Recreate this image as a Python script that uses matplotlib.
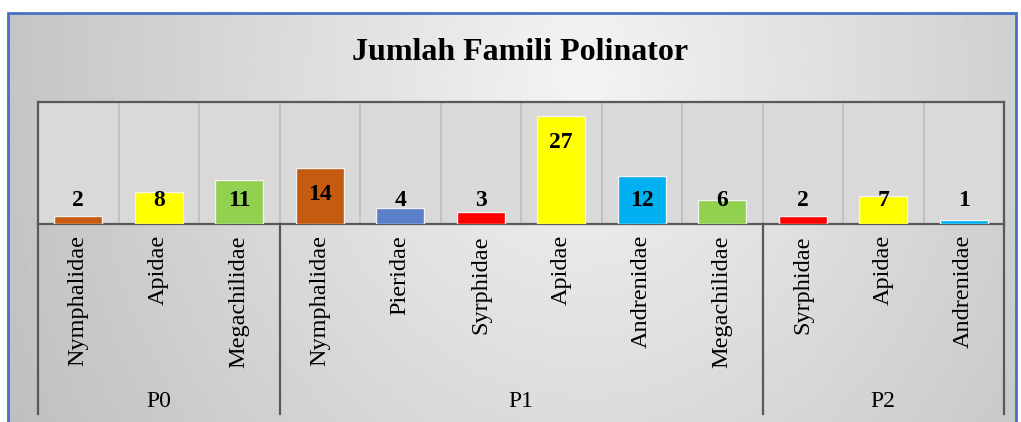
import numpy as np
import matplotlib
matplotlib.use("Agg")
import matplotlib.pyplot as plt
from matplotlib.patches import Rectangle
import matplotlib.transforms as mtransforms

# ---- data ----
groups = ["P0", "P1", "P2"]
group_sizes = [3, 6, 3]
families = ["Nymphalidae", "Apidae", "Megachilidae",
            "Nymphalidae", "Pieridae", "Syrphidae", "Apidae", "Andrenidae", "Megachilidae",
            "Syrphidae", "Apidae", "Andrenidae"]
values = [2, 8, 11, 14, 4, 3, 27, 12, 6, 2, 7, 1]
family_colors = {
    "Nymphalidae": "#C55A11",
    "Apidae": "#FFFF00",
    "Megachilidae": "#92D050",
    "Pieridae": "#5B7FC9",
    "Syrphidae": "#FF0000",
    "Andrenidae": "#00B0F0",
}
title = "Jumlah Famili Polinator"

W, H = 1021, 422
fig = plt.figure(figsize=(W / 100, H / 100), dpi=100)
fig.patch.set_facecolor("white")

serif = ["Liberation Serif", "DejaVu Serif"]

# ---- background gradient frame ----
fx0, fx1, fy_top = 8, 1016, 13
bg = fig.add_axes([fx0 / W, 0, (fx1 - fx0) / W, (H - fy_top) / H])
ny, nx = 200, 400
yy, xx = np.mgrid[0:1:ny * 1j, 0:1:nx * 1j]
r = np.sqrt(((xx - 0.57) / 0.62) ** 2 + ((yy - 0.15) / 1.8) ** 2)
img = 0.955 - 0.20 * r
img = np.clip(img, 0, 1)
bg.imshow(img, cmap="gray", vmin=0, vmax=1, aspect="auto", extent=[0, 1, 1, 0])
bg.set_xlim(0, 1)
bg.set_ylim(1, 0)
bg.axis("off")
fig.patches.append(Rectangle((fx0 / W, -0.1), (fx1 - fx0) / W, (H - fy_top) / H + 0.1,
                             transform=fig.transFigure, fill=False,
                             edgecolor="#4472C4", linewidth=2.0, zorder=10))

fig.text(520 / W, 1 - 53 / H, title, ha="center", va="center",
         fontsize=23, fontweight="bold", family=serif, color="black")

# ---- main axes ----
px0, px1, py_top, py_base = 38, 1004, 102, 224
ax = fig.add_axes([px0 / W, 1 - py_base / H, (px1 - px0) / W, (py_base - py_top) / H])
ax.set_facecolor("#D9D9D9")
n = len(values)
x = np.arange(n)
colors = [family_colors[f] for f in families]
ax.bar(x, values, width=0.6, color=colors, edgecolor="#F2F2F2", linewidth=1.0, zorder=3)
ax.set_xlim(-0.5, n - 0.5)
ax.set_ylim(0, 30.5)
ax.set_xticks([])
ax.set_yticks([])
for s in ax.spines.values():
    s.set_color("#595959")
    s.set_linewidth(1.6)

for b in np.arange(0.5, n - 0.5, 1.0):
    ax.axvline(b, color="#BFBFBF", linewidth=1.3, zorder=1)

for xi, v in zip(x, values):
    ly = max(v - 6.6, 6.0)
    ax.text(xi, ly, str(v), ha="center", va="center", fontsize=17,
            fontweight="bold", family=serif, color="black", zorder=5)

# ---- category axis (below) ----
trans = mtransforms.blended_transform_factory(ax.transData, ax.transAxes)
ax_h = py_base - py_top
def dy(px):
    return -px / ax_h

for xi, f in zip(x, families):
    ax.text(xi, dy(11), f, rotation=90, ha="center", va="top", fontsize=17.5,
            family=serif, color="black", transform=trans, clip_on=False)

bounds = np.concatenate([[0], np.cumsum(group_sizes)]) - 0.5
for b in bounds:
    ax.plot([b, b], [0, dy(414 - py_base)], color="#595959", linewidth=1.6,
            transform=trans, clip_on=False, zorder=6)
for g, a, bnd in zip(groups, bounds[:-1], bounds[1:]):
    ax.text((a + bnd) / 2, dy(401 - py_base), g, ha="center", va="center",
            fontsize=17, family=serif, color="black", transform=trans, clip_on=False)

fig.savefig("out.png", dpi=100)
